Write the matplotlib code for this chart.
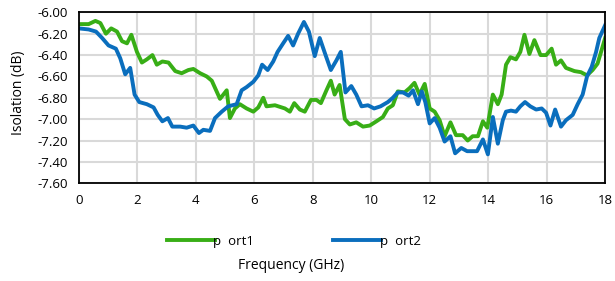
import matplotlib.pyplot as plt

# port1 trace (green)
f1 = [0, 0.34, 0.57, 0.74, 0.93, 1.11, 1.31, 1.48, 1.65, 1.8, 1.99, 2.16, 2.33, 2.52, 2.67,
      2.86, 3.07, 3.3, 3.52, 3.75, 3.92, 4.15, 4.375, 4.55, 4.83, 5.06, 5.17, 5.34,
      5.51, 5.74, 5.97, 6.14, 6.31, 6.42, 6.71, 7.05, 7.22, 7.37, 7.56, 7.73, 7.94, 8.13,
      8.28, 8.47, 8.62, 8.75, 8.92, 9.1, 9.27, 9.49, 9.72, 9.95, 10.18, 10.4, 10.57, 10.74,
      10.91, 11.14, 11.31, 11.48, 11.65, 11.83, 12.0, 12.17, 12.34, 12.51, 12.71, 12.9,
      13.13, 13.3, 13.47, 13.65, 13.82, 13.97, 14.16, 14.33, 14.46, 14.61, 14.76, 14.95,
      15.1, 15.24, 15.41, 15.58, 15.79, 15.98, 16.17, 16.32, 16.49, 16.66, 16.95, 17.17,
      17.38, 17.57, 17.74, 17.86, 18.0]
port1 = [-6.11, -6.11, -6.08, -6.10, -6.20, -6.15, -6.18, -6.27, -6.29, -6.21, -6.37, -6.47,
         -6.44, -6.40, -6.49, -6.46, -6.47, -6.55, -6.57, -6.54, -6.53, -6.57, -6.60, -6.64,
         -6.81, -6.73, -6.99, -6.90, -6.86, -6.90, -6.93, -6.89, -6.80, -6.88, -6.87,
         -6.90, -6.93, -6.85, -6.91, -6.93, -6.82, -6.82, -6.85, -6.73, -6.64, -6.77, -6.68,
         -7.00, -7.05, -7.03, -7.07, -7.06, -7.02, -6.98, -6.90, -6.87, -6.74, -6.75, -6.71,
         -6.66, -6.77, -6.67, -6.90, -6.93, -7.01, -7.16, -7.03, -7.15, -7.15, -7.20, -7.16,
         -7.16, -7.02, -7.08, -6.77, -6.86, -6.77, -6.49, -6.42, -6.44, -6.37, -6.21, -6.39,
         -6.26, -6.40, -6.40, -6.34, -6.49, -6.45, -6.52, -6.55, -6.56, -6.59, -6.54, -6.48,
         -6.37, -6.24]

# port2 trace (blue)
f2 = [0, 0.34, 0.59, 0.8, 1.02, 1.27, 1.42, 1.59, 1.76, 1.91, 2.07, 2.33, 2.56, 2.7, 2.86,
      3.05, 3.2, 3.47, 3.69, 3.92, 4.11, 4.26, 4.49, 4.66, 4.89, 5.11, 5.4, 5.57, 5.74,
      5.97, 6.14, 6.27, 6.46, 6.65, 6.8, 6.99, 7.16, 7.33, 7.5, 7.7, 7.87, 8.07, 8.24,
      8.44, 8.62, 8.81, 8.96, 9.12, 9.32, 9.49, 9.67, 9.89, 10.1, 10.32, 10.57, 10.74,
      10.91, 11.09, 11.28, 11.43, 11.6, 11.73, 11.85, 12.0, 12.17, 12.34, 12.51, 12.71,
      12.87, 13.08, 13.28, 13.47, 13.62, 13.82, 13.99, 14.16, 14.33, 14.5, 14.61, 14.78,
      14.95, 15.1, 15.26, 15.44, 15.64, 15.83, 15.98, 16.13, 16.29, 16.49, 16.66, 16.89,
      17.06, 17.23, 17.38, 17.54, 17.69, 17.8, 18.0]
port2 = [-6.15, -6.16, -6.18, -6.24, -6.31, -6.34, -6.43, -6.58, -6.52, -6.77, -6.84, -6.86,
         -6.89, -6.96, -7.02, -6.99, -7.07, -7.07, -7.08, -7.06, -7.13, -7.10, -7.11, -6.99,
         -6.93, -6.88, -6.86, -6.73, -6.70, -6.65, -6.59, -6.49, -6.54, -6.46, -6.37, -6.29,
         -6.22, -6.31, -6.20, -6.09, -6.18, -6.41, -6.24, -6.40, -6.54, -6.45, -6.37, -6.75,
         -6.69, -6.77, -6.88, -6.87, -6.90, -6.88, -6.84, -6.80, -6.75, -6.75, -6.78, -6.73,
         -6.86, -6.74, -6.84, -7.04, -6.99, -7.08, -7.21, -7.16, -7.32, -7.27, -7.30, -7.30,
         -7.30, -7.19, -7.33, -6.98, -7.23, -7.01, -6.93, -6.92, -6.93, -6.88, -6.84, -6.88,
         -6.91, -6.90, -6.94, -7.06, -6.91, -7.07, -7.01, -6.96, -6.86, -6.77, -6.60, -6.51,
         -6.37, -6.24, -6.12]

xticks = [0, 2, 4, 6, 8, 10, 12, 14, 16, 18]
yticks = [-6.00, -6.20, -6.40, -6.60, -6.80, -7.00, -7.20, -7.40, -7.60]

plt.rcParams['font.family'] = ['Open Sans', 'DejaVu Sans']

fig = plt.figure(figsize=(6.15, 2.81), dpi=100)
ax = fig.add_axes([0.128, 0.348, 0.856, 0.608])

ax.plot(f1, port1, color='#38AE16', lw=2.8, label='p  ort1', solid_joinstyle='round')
ax.plot(f2, port2, color='#0A6EBD', lw=2.8, label='p  ort2', solid_joinstyle='round')

ax.set_xlim(0, 18)
ax.set_ylim(-7.6, -6.0)
ax.set_xticks(xticks)
ax.set_yticks(yticks)
ax.set_yticklabels([f'{v:.2f}' for v in yticks])
ax.tick_params(length=0, labelsize=9.5, pad=8)
ax.grid(color='#D9D9D9', lw=1.5)
ax.set_axisbelow(True)
for s in ax.spines.values():
    s.set_linewidth(1.3)

fig.text(0.473, 0.055, 'Frequency (GHz)', ha='center', va='center', fontsize=10)
fig.text(0.03, 0.67, 'Isolation (dB)', ha='center', va='center', rotation=90, fontsize=10)

fig.legend(loc='center', bbox_to_anchor=(0.478, 0.142), ncol=2, frameon=False,
           fontsize=9.5, handlelength=3.6, handletextpad=-0.1, columnspacing=6.0)

fig.savefig('out.png', dpi=100)
